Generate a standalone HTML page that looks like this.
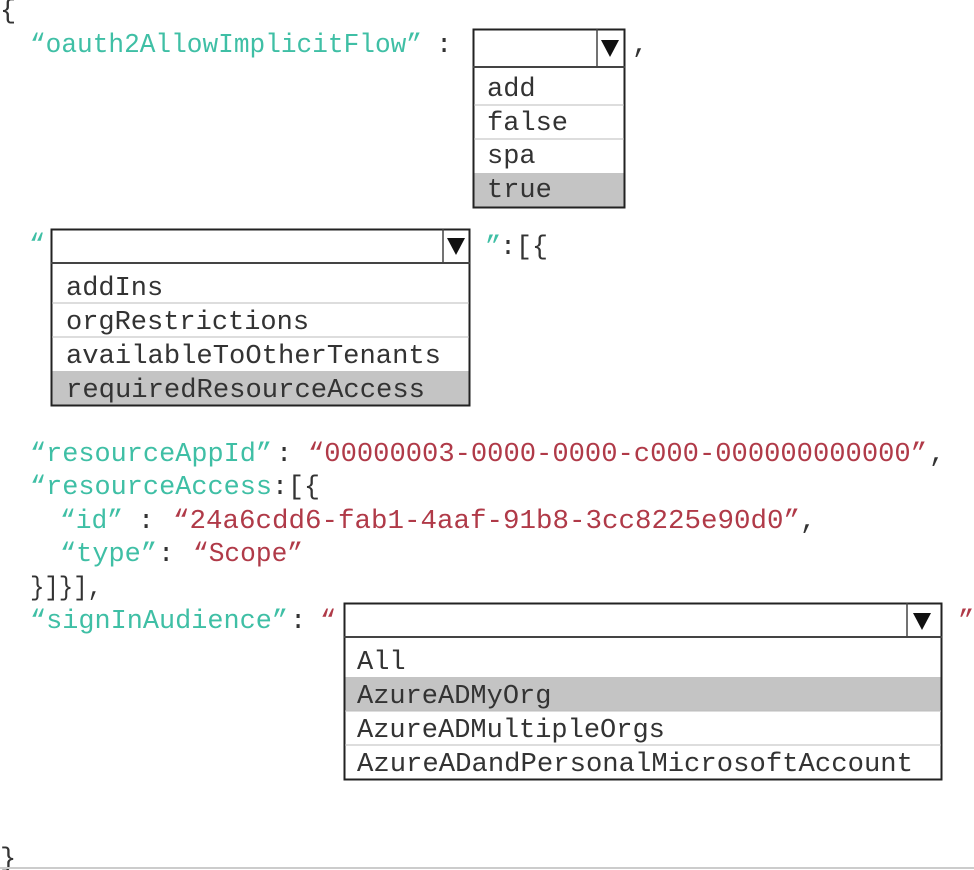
<!DOCTYPE html>
<html><head><meta charset="utf-8"><style>
html,body{margin:0;padding:0;background:#fff;width:974px;height:870px;overflow:hidden}
svg{display:block}
text{font-family:"Liberation Mono",monospace;font-size:27px}
.d{font-size:27px;fill:#333}
.t{fill:#3fbfa5}.r{fill:#b03a48}.k{fill:#333}
</style></head><body>
<svg width="974" height="870" viewBox="0 0 974 870">
<rect width="974" height="870" fill="#fff"/>
<text x="0" y="18" class="k">{</text>
<text x="0" y="866" class="k">}</text>
<line x1="0" y1="868" x2="974" y2="868" stroke="#ccc" stroke-width="2"/>

<text x="30" y="52" class="t" textLength="392" lengthAdjust="spacingAndGlyphs">“oauth2AllowImplicitFlow”</text>
<text x="436" y="52" class="k">:</text>
<text x="632" y="52" class="k">,</text>
<!-- box1 -->
<rect x="473" y="173" width="151" height="34" fill="#c4c4c4"/>
<rect x="473.5" y="29.5" width="151" height="178" fill="none" stroke="#222" stroke-width="2"/>
<line x1="473" y1="67" x2="625" y2="67" stroke="#444" stroke-width="2"/>
<line x1="597" y1="29" x2="597" y2="67" stroke="#444" stroke-width="1.5"/>
<polygon points="601,40 619,40 610,57" fill="#111"/>
<line x1="474" y1="105" x2="624" y2="105" stroke="#bbb"/>
<line x1="474" y1="139" x2="624" y2="139" stroke="#bbb"/>
<text x="487" y="96" class="d">add</text>
<text x="487" y="130" class="d">false</text>
<text x="487" y="163" class="d">spa</text>
<text x="487" y="197" class="d">true</text>

<!-- box2 -->
<text x="29" y="252" class="t">“</text>
<rect x="51" y="371" width="419" height="34" fill="#c4c4c4"/>
<rect x="51.5" y="229.5" width="418" height="176" fill="none" stroke="#222" stroke-width="2"/>
<line x1="51" y1="263" x2="470" y2="263" stroke="#444" stroke-width="2"/>
<line x1="443" y1="229" x2="443" y2="263" stroke="#444" stroke-width="1.5"/>
<polygon points="447,238 465,238 456,255" fill="#111"/>
<line x1="52" y1="303" x2="469" y2="303" stroke="#bbb"/>
<line x1="52" y1="337" x2="469" y2="337" stroke="#bbb"/>
<text x="66" y="295" class="d">addIns</text>
<text x="66" y="329" class="d">orgRestrictions</text>
<text x="66" y="363" class="d" textLength="375" lengthAdjust="spacingAndGlyphs">availableToOtherTenants</text>
<text x="66" y="397" class="d" textLength="359" lengthAdjust="spacingAndGlyphs">requiredResourceAccess</text>
<text x="485" y="254" class="t">”</text>
<text x="500" y="254" class="k" textLength="48" lengthAdjust="spacingAndGlyphs">:[{</text>

<text x="30" y="461" class="t" textLength="242" lengthAdjust="spacingAndGlyphs">“resourceAppId”</text>
<text x="276" y="461" class="k">:</text>
<text x="308" y="461" class="r" textLength="619" lengthAdjust="spacingAndGlyphs">“00000003-0000-0000-c000-000000000000”</text>
<text x="929" y="461" class="k">,</text>
<text x="30" y="494" class="t" textLength="242" lengthAdjust="spacingAndGlyphs">“resourceAccess</text>
<text x="272" y="494" class="k" textLength="48" lengthAdjust="spacingAndGlyphs">:[{</text>
<text x="60" y="528" class="t" textLength="63" lengthAdjust="spacingAndGlyphs">“id”</text>
<text x="138" y="528" class="k">:</text>
<text x="173" y="528" class="r" textLength="627" lengthAdjust="spacingAndGlyphs">“24a6cdd6-fab1-4aaf-91b8-3cc8225e90d0”</text>
<text x="800" y="528" class="k">,</text>
<text x="60" y="561" class="t" textLength="97" lengthAdjust="spacingAndGlyphs">“type”</text>
<text x="158" y="561" class="k">:</text>
<text x="193" y="561" class="r" textLength="110" lengthAdjust="spacingAndGlyphs">“Scope”</text>
<text x="30" y="595" class="k" textLength="72" lengthAdjust="spacingAndGlyphs">}]}],</text>
<text x="30" y="628" class="t" textLength="258" lengthAdjust="spacingAndGlyphs">“signInAudience”</text>
<text x="290" y="628" class="k">:</text>
<text x="320" y="628" class="r">“</text>
<text x="958" y="628" class="r">”</text>

<!-- box3 -->
<rect x="344" y="677" width="598" height="34" fill="#c4c4c4"/>
<rect x="344.5" y="603.5" width="597" height="176" fill="none" stroke="#222" stroke-width="2"/>
<line x1="344" y1="637" x2="942" y2="637" stroke="#444" stroke-width="2"/>
<line x1="907" y1="603" x2="907" y2="637" stroke="#444" stroke-width="1.5"/>
<polygon points="913,613 931,613 922,630" fill="#111"/>
<line x1="345" y1="745" x2="941" y2="745" stroke="#bbb"/>
<line x1="345" y1="711" x2="941" y2="711" stroke="#bbb"/>
<text x="357" y="669" class="d">All</text>
<text x="357" y="703" class="d">AzureADMyOrg</text>
<text x="357" y="737" class="d">AzureADMultipleOrgs</text>
<text x="357" y="771" class="d" textLength="556" lengthAdjust="spacingAndGlyphs">AzureADandPersonalMicrosoftAccount</text>
</svg>
</body></html>
